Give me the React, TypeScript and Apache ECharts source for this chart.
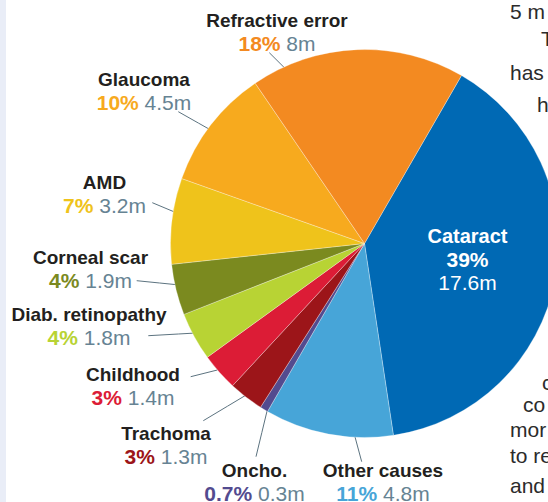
import React, { useEffect, useRef } from 'react';
import * as echarts from 'echarts';

// ---- data ----
const categories = ['Cataract', 'Other causes', 'Oncho.', 'Trachoma', 'Childhood', 'Diab. retinopathy', 'Corneal scar', 'AMD', 'Glaucoma', 'Refractive error'];
const millions = [17.6, 4.8, 0.3, 1.3, 1.4, 1.8, 1.9, 3.2, 4.5, 8];
const percentLabels = ['39%', '11%', '0.7%', '3%', '3%', '4%', '4%', '7%', '10%', '18%'];
const valueLabels = ['17.6m', '4.8m', '0.3m', '1.3m', '1.4m', '1.8m', '1.9m', '3.2m', '4.5m', '8m'];

// ---- styles / layout ----
const colors = ['#0069b4', '#47a5d8', '#534b8f', '#9c1519', '#dc1c36', '#b8d334', '#7b8a1f', '#efc31b', '#f7aa1e', '#f38a21'];
const labelPos: [number, number][] = [
  [467.5, 259], [383, 481.5], [254.5, 481.5], [166, 444.5], [133, 386],
  [89, 326], [90.5, 269], [104.5, 193.5], [144, 90.5], [277, 31.5],
];
const leaderLines: ([number, number][] | null)[] = [
  null,
  [[361.7, 461.7], [352.7, 428.3]],
  [[256, 456.7], [267.7, 408.3]],
  [[203.3, 420.7], [251.7, 391.7]],
  [[190.7, 376.7], [217.3, 370]],
  [[148.3, 335.7], [208.3, 332.3]],
  [[136.7, 280.7], [182.7, 285.3]],
  [[152.3, 202.7], [185.7, 216.7]],
  [[178.3, 111.7], [218.3, 134.3]],
  [[269.3, 52.7], [290.7, 74]],
];
const sideText: [string, number, number][] = [
  ['5 m', 510, 22], ['T', 541, 49], ['has', 510, 83], ['h', 537, 115],
  ['c', 542, 393], ['co', 523, 415], ['mor', 510, 440], ['to re', 510, 466], ['and', 510, 496],
];

const FONT = '"Liberation Sans", Arial, sans-serif';
const GREY = '#668393';

const rich: Record<string, any> = {
  t: { fontFamily: FONT, fontSize: 19, fontWeight: 'bold', color: '#231f20', lineHeight: 23, align: 'center' },
  v: { fontFamily: FONT, fontSize: 21, color: GREY, lineHeight: 23, align: 'center' },
  ct: { fontFamily: FONT, fontSize: 20, fontWeight: 'bold', color: '#ffffff', lineHeight: 23, align: 'center' },
  cp: { fontFamily: FONT, fontSize: 21, fontWeight: 'bold', color: '#ffffff', lineHeight: 23, align: 'center' },
  cv: { fontFamily: FONT, fontSize: 21, color: '#ffffff', lineHeight: 23, align: 'center' },
};
colors.forEach((c, i) => {
  rich['p' + i] = { fontFamily: FONT, fontSize: 21, fontWeight: 'bold', color: c, lineHeight: 23, align: 'center' };
});

const seriesData = categories.map((name, i) => ({
  name,
  value: millions[i],
  itemStyle: { color: colors[i] },
  label: i === 0 ? { position: 'inside' } : undefined,
  labelLine: i === 0 ? { show: false } : undefined,
}));

const option: any = {
  animation: false,
  backgroundColor: '#ffffff',
  graphic: [
    { type: 'rect', left: 0, top: 0, shape: { x: 0, y: 0, width: 6, height: 502 }, style: { fill: '#e9edf7' }, silent: true },
    ...sideText.map(([t, x, y]) => ({
      type: 'text', x, y, silent: true,
      style: { text: t, fontFamily: FONT, fontSize: 21, fill: '#2b2b2b', textVerticalAlign: 'bottom', verticalAlign: 'bottom' },
    })),
  ],
  series: [
    {
      type: 'pie',
      center: [364.5, 243.5],
      radius: [0, 194],
      startAngle: 60,
      clockwise: true,
      avoidLabelOverlap: false,
      itemStyle: { borderColor: 'rgba(255,255,255,0.6)', borderWidth: 0.5 },
      label: {
        show: true,
        position: 'outside',
        fontFamily: FONT,
        fontSize: 21,
        color: GREY,
        formatter: (p: any) => {
          const i = p.dataIndex;
          if (i === 0) return `{ct|${categories[i]}}\n{cp|${percentLabels[i]}}\n{cv|${valueLabels[i]}}`;
          return `{t|${categories[i]}}\n{p${i}|${percentLabels[i]}}{v| ${valueLabels[i]}}`;
        },
        rich,
      },
      labelLine: { show: true, lineStyle: { color: '#5c7380', width: 1 } },
      labelLayout: (params: any) => {
        const i = params.dataIndex;
        const [x, y] = labelPos[i];
        const res: any = { x, y, align: 'center', verticalAlign: 'middle' };
        const ln = leaderLines[i];
        if (ln) {
          const mid: [number, number] = [(ln[0][0] + ln[1][0]) / 2, (ln[0][1] + ln[1][1]) / 2];
          res.labelLinePoints = [ln[0], mid, ln[1]];
        }
        return res;
      },
      emphasis: { disabled: true },
      data: seriesData,
    },
  ],
};

export default function App() {
  const ref = useRef<HTMLDivElement>(null);
  useEffect(() => {
    const chart = echarts.init(ref.current!, null, { renderer: 'svg' });
    chart.setOption(option);
    return () => chart.dispose();
  }, []);
  return (
    <div
      ref={ref}
      style={{ position: 'absolute', left: 0, top: 0, width: 548, height: 502, background: '#fff', overflow: 'hidden' }}
    />
  );
}
